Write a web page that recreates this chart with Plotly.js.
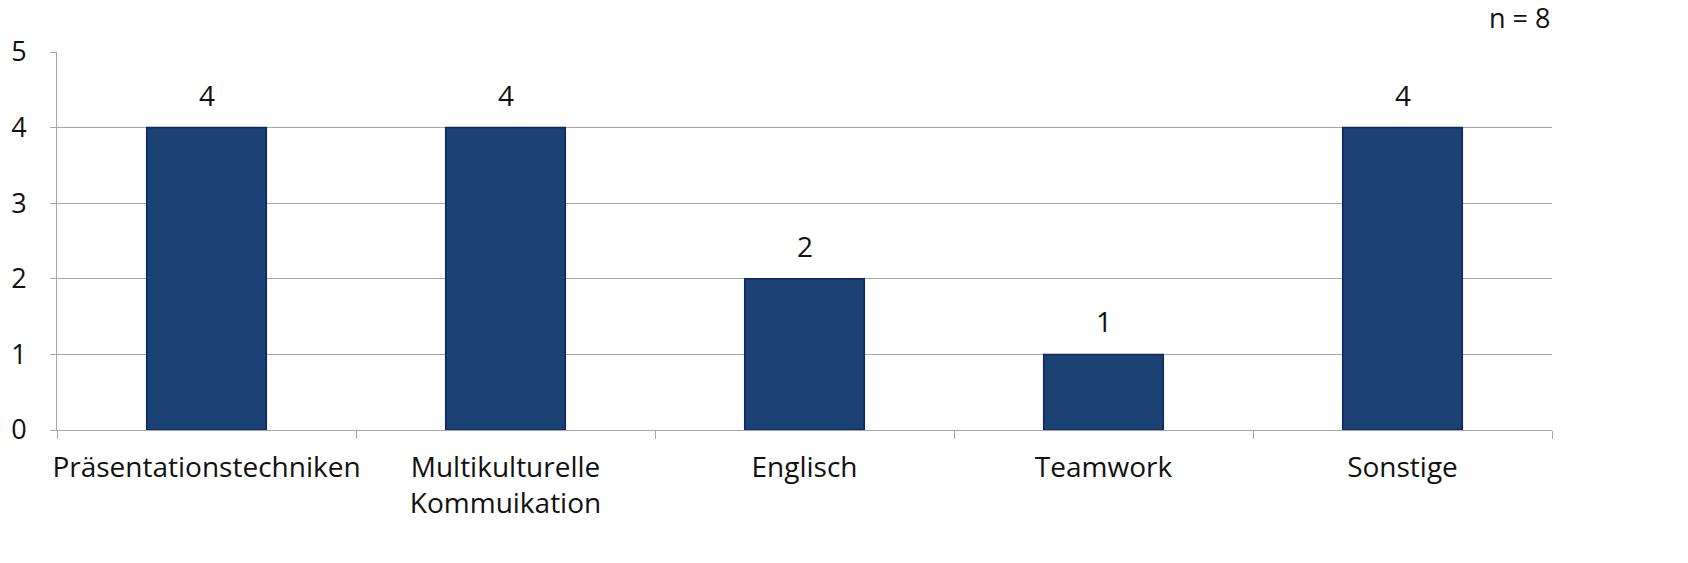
<!DOCTYPE html>
<html>
<head>
<meta charset="utf-8">
<script src="https://cdn.plot.ly/plotly-3.0.1.min.js"></script>
<style>html,body{margin:0;padding:0;background:#fff;}#chart{width:1688px;height:563px;}</style>
</head>
<body>
<div id="chart"></div>
<script>
const categories = ["Präsentationstechniken", "Multikulturelle<br>Kommuikation", "Englisch", "Teamwork", "Sonstige"];
const values = [4, 4, 2, 1, 4];
const yTicks = [0, 1, 2, 3, 4, 5];
const sampleNote = "n = 8";

const fontFam = "'Open Sans', Roboto, sans-serif";
const trace = {
  type: 'bar',
  x: categories,
  y: values,
  width: 0.4,
  marker: {color: '#1C4173', line: {color: '#0B2566', width: 1.5}},
  hoverinfo: 'none'
};
const annotations = categories.map((c, i) => ({
  x: c, y: values[i], xref: 'x', yref: 'y',
  text: String(values[i]), showarrow: false, yshift: 33,
  font: {family: fontFam, size: 28, color: '#111'}
}));
annotations.push({
  xref: 'paper', yref: 'paper', x: 1, y: 1, xanchor: 'right', yanchor: 'bottom',
  yshift: 14, text: sampleNote, showarrow: false,
  font: {family: fontFam, size: 27, color: '#111'}
});
const layout = {
  width: 1688, height: 563,
  margin: {l: 57, r: 136, t: 52, b: 133},
  paper_bgcolor: '#fff', plot_bgcolor: '#fff',
  showlegend: false,
  font: {family: fontFam, size: 26, color: '#111'},
  xaxis: {
    type: 'category',
    showline: true, linecolor: '#A6A6A6', linewidth: 1,
    ticks: 'outside', tickson: 'boundaries', ticklen: 8, tickcolor: '#A6A6A6',
    showgrid: false, tickangle: 0,
    tickfont: {family: fontFam, size: 28, color: '#111'},
    ticklabelstandoff: 12
  },
  yaxis: {
    range: [0, 5], tickvals: yTicks, ticktext: yTicks.map(String),
    showline: true, linecolor: '#A6A6A6', linewidth: 1,
    ticks: 'outside', ticklen: 6, tickcolor: '#A6A6A6',
    showgrid: true, gridcolor: '#A6A6A6', gridwidth: 1,
    zeroline: false,
    tickfont: {family: fontFam, size: 27, color: '#111'},
    ticklabelstandoff: 18
  },
  annotations: annotations
};
Plotly.newPlot('chart', [trace], layout, {displayModeBar: false, staticPlot: true});
</script>
</body>
</html>
